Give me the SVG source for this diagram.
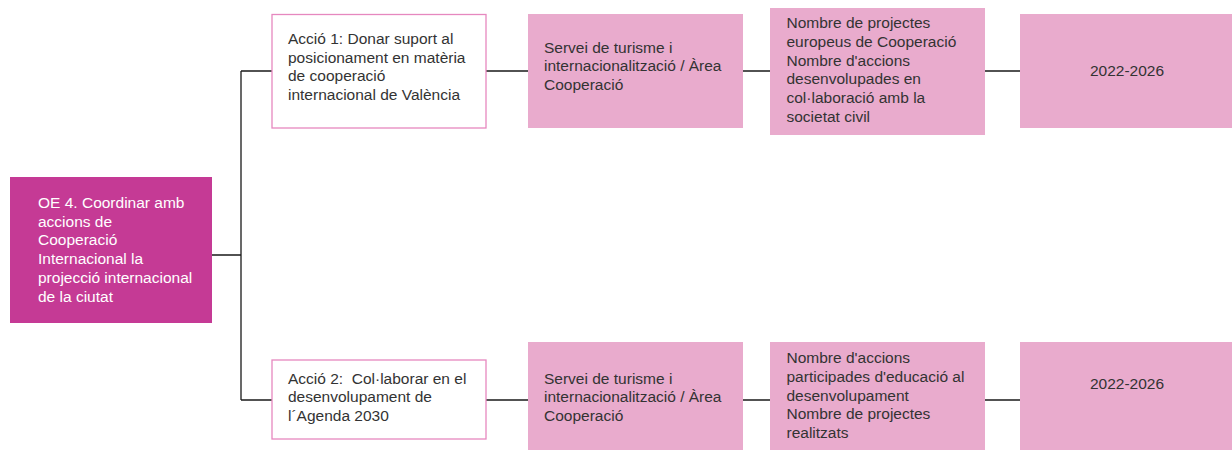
<svg xmlns="http://www.w3.org/2000/svg" width="1232" height="450" viewBox="0 0 1232 450">
<style>
text{font-family:"Liberation Sans",Arial,sans-serif;font-size:15.5px;fill:#333333;white-space:pre}
.oe{fill:#C53A95}
.oet{fill:#FFFFFF}
.act{fill:#FFFFFF;stroke:#E688BF;stroke-width:1.3}
.pk{fill:#E9ABCD}
.ln{stroke:#1a1a1a;stroke-width:1.3;fill:none}
</style>
<rect width="1232" height="450" fill="#FFFFFF"/>
<g id="connectors">
<path class="ln" d="M212 255H241M241 71V400M241 71H272M241 400H272"/>
<path class="ln" d="M486 71H528M742 71H770M985 71H1020"/>
<path class="ln" d="M486 400H528M742 400H770M985 400H1020"/>
</g>
<g id="oe4">
<rect class="oe" x="10" y="177" width="202" height="146"/>
<text class="oet" x="38" y="208">OE 4. Coordinar amb</text>
<text class="oet" x="38" y="226.7">accions de</text>
<text class="oet" x="38" y="245.4">Cooperació</text>
<text class="oet" x="38" y="264.1">Internacional la</text>
<text class="oet" x="38" y="282.8">projecció internacional</text>
<text class="oet" x="38" y="301.5">de la ciutat</text>
</g>
<g id="accio1">
<rect class="act" x="272" y="14.5" width="214" height="113.5"/>
<text x="288" y="44">Acció 1: Donar suport al</text>
<text x="288" y="62.7">posicionament en matèria</text>
<text x="288" y="81.4">de cooperació</text>
<text x="288" y="100.1">internacional de València</text>
</g>
<g id="servei1">
<rect class="pk" x="528" y="14" width="215" height="114"/>
<text x="544" y="52.5">Servei de turisme i</text>
<text x="544" y="71.2">internacionalització / Àrea</text>
<text x="544" y="89.9">Cooperació</text>
</g>
<g id="indicadors1">
<rect class="pk" x="770" y="8" width="215" height="127"/>
<text x="786.5" y="28.3">Nombre de projectes</text>
<text x="786.5" y="47">europeus de Cooperació</text>
<text x="786.5" y="65.7">Nombre d'accions</text>
<text x="786.5" y="84.4">desenvolupades en</text>
<text x="786.5" y="103.1">col·laboració amb la</text>
<text x="786.5" y="121.8">societat civil</text>
</g>
<g id="periode1">
<rect class="pk" x="1020" y="14" width="212" height="114"/>
<text x="1127" y="76" text-anchor="middle">2022-2026</text>
</g>
<g id="accio2">
<rect class="act" x="272" y="360" width="214" height="79"/>
<text x="288" y="383.5">Acció 2:  Col·laborar en el</text>
<text x="288" y="402.2">desenvolupament de</text>
<text x="288" y="420.9">l´Agenda 2030</text>
</g>
<g id="servei2">
<rect class="pk" x="528" y="342" width="215" height="108"/>
<text x="544" y="383.5">Servei de turisme i</text>
<text x="544" y="402.2">internacionalització / Àrea</text>
<text x="544" y="420.9">Cooperació</text>
</g>
<g id="indicadors2">
<rect class="pk" x="770" y="342" width="215" height="108"/>
<text x="786.5" y="363.3">Nombre d'accions</text>
<text x="786.5" y="382">participades d'educació al</text>
<text x="786.5" y="400.7">desenvolupament</text>
<text x="786.5" y="419.4">Nombre de projectes</text>
<text x="786.5" y="438.1">realitzats</text>
</g>
<g id="periode2">
<rect class="pk" x="1020" y="342" width="212" height="108"/>
<text x="1127" y="389" text-anchor="middle">2022-2026</text>
</g>
</svg>
